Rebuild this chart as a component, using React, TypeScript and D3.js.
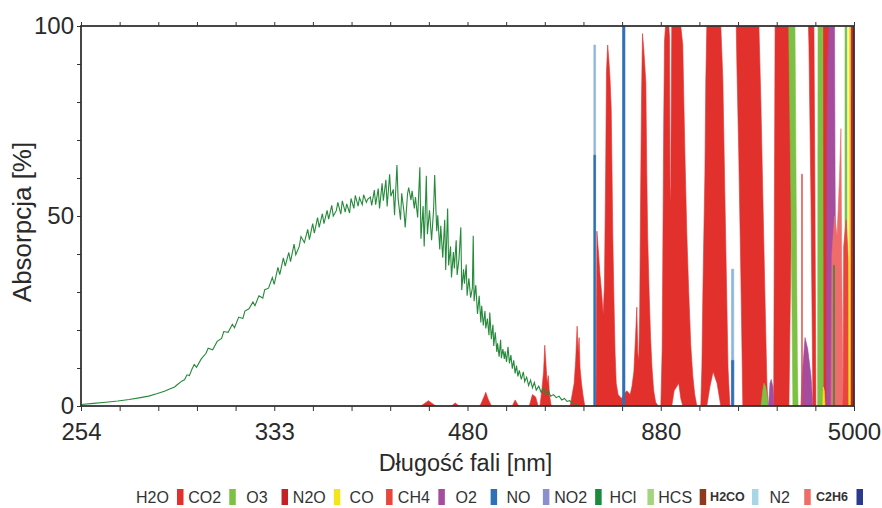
import React, { useEffect, useRef } from 'react';
import * as d3 from 'd3';

const width = 882;
const height = 508;
const plot = { left: 81, right: 854, top: 26, bottom: 406 };
const font = 'Liberation Sans, Arial, Helvetica, sans-serif';

// axis is linear in wavenumber: 20 equal steps between 254 and 5000 nm, labelled every 5th
const xTickLabels = ['254', '333', '480', '880', '5000'];
const yTickLabels = ['0', '50', '100'];

// [wavelength nm, absorption %]
const no2Curve: [number, number][] = [
  [254, 0.4], [258, 0.7], [262, 1.0], [266, 1.3], [270, 1.7], [274, 2.2], [277, 2.6], [280, 3.2],
  [283, 3.9], [285, 4.5], [287, 5.0], [288, 5.6], [290, 6.6], [291, 6.9], [292, 8.2], [293, 8.0],
  [294, 9.6], [295, 10.9], [296, 10.2], [298, 12.4], [300, 13.8], [301, 15.2], [303, 14.8], [305, 17.0],
  [307, 17.8], [308, 19.6], [310, 19.4], [312, 21.5], [313, 20.6], [315, 23.4], [317, 23.0], [318, 25.0],
  [320, 25.6], [322, 27.4], [323, 26.4], [325, 29.0], [327, 28.4], [328, 30.6], [330, 31.0], [332, 33.8],
  [333, 32.0], [335, 36.5], [336, 34.6], [338, 39.0], [339, 36.8], [341, 40.4], [342, 38.0], [344, 42.6],
  [345, 39.8], [347, 42.0], [348, 44.6], [350, 43.0], [352, 46.5], [353, 43.8], [355, 48.0], [356, 45.5],
  [358, 49.6], [359, 47.0], [361, 50.6], [362, 48.0], [364, 51.5], [365, 49.2], [367, 52.8], [368, 50.0],
  [370, 51.4], [371, 53.6], [373, 50.5], [374, 54.0], [376, 51.0], [377, 53.2], [379, 50.8], [380, 54.6],
  [382, 52.0], [383, 55.4], [385, 52.6], [386, 54.8], [388, 53.0], [389, 55.6], [391, 53.6], [392, 54.4],
  [394, 55.0], [395, 52.8], [397, 56.8], [398, 53.0], [400, 57.2], [401, 52.0], [403, 58.6], [404, 54.0],
  [406, 59.5], [407, 52.5], [409, 61.0], [410, 55.2], [412, 57.0], [413, 50.2], [415, 63.4], [416, 54.5],
  [418, 49.0], [419, 56.0], [421, 51.0], [422, 47.0], [424, 55.8], [425, 57.5], [427, 54.2], [428, 56.6],
  [430, 52.0], [431, 55.0], [433, 49.6], [435, 62.8], [436, 44.0], [438, 52.6], [439, 42.0], [441, 60.6],
  [442, 45.2], [444, 51.5], [446, 43.6], [448, 52.0], [449, 60.8], [451, 46.0], [452, 50.2], [454, 41.2],
  [455, 47.4], [457, 39.0], [459, 49.0], [460, 35.8], [462, 52.0], [463, 37.0], [465, 42.0], [466, 33.8],
  [468, 40.5], [469, 36.2], [471, 43.6], [472, 34.5], [474, 38.6], [476, 47.0], [477, 30.5], [479, 36.0],
  [480, 32.2], [482, 37.2], [483, 29.0], [485, 33.6], [487, 28.5], [489, 31.0], [490, 44.8], [491, 27.6],
  [493, 31.8], [495, 24.2], [497, 29.0], [499, 22.0], [500, 26.4], [502, 21.2], [504, 25.0], [505, 20.4],
  [507, 23.0], [509, 18.6], [510, 24.6], [512, 17.6], [514, 21.4], [515, 15.8], [517, 19.4], [519, 14.2],
  [520, 16.5], [522, 13.0], [524, 17.4], [525, 12.6], [527, 15.0], [529, 12.4], [530, 14.4], [532, 11.6],
  [534, 15.6], [536, 11.2], [538, 13.4], [540, 9.8], [542, 12.0], [544, 8.6], [546, 10.6], [548, 7.8],
  [550, 9.4], [553, 7.0], [556, 9.0], [558, 6.4], [561, 7.6], [564, 5.4], [567, 6.8], [570, 4.8],
  [573, 6.2], [576, 4.2], [580, 5.2], [584, 3.6], [588, 4.8], [592, 3.0], [596, 4.0], [600, 2.6],
  [605, 3.0], [610, 2.2], [615, 2.6], [620, 1.6], [625, 2.0], [630, 1.2], [635, 1.4], [640, 0.8],
  [645, 0.6], [650, 0.3],
];

type Band = [number, number, number][]; // [wavelength nm, lower %, upper %]

const h2oBands: Band[] = [
  [[436, 0, 0], [443, 0, 1.4], [450, 0, 0]],
  [[466, 0, 0], [470, 0, 0.8], [474, 0, 0]],
  [[498, 0, 0], [503, 0, 2.5], [505, 0, 3.6], [508, 0, 1.8], [512, 0, 0]],
  [[540, 0, 0], [544, 0, 1.6], [549, 0, 0]],
  [[565, 0, 0], [570, 0, 3.0], [575, 0, 2.4], [579, 0, 0]],
  [[582, 0, 0], [585, 0, 4], [588, 0, 9], [590, 0, 16], [592, 0, 11], [594, 0, 6], [596, 0, 8], [598, 0, 3], [601, 0, 0]],
  [[636, 0, 0], [640, 0, 3], [644, 0, 6], [647, 0, 12], [650, 0, 21], [652, 0, 14], [654, 0, 18], [656, 0, 10], [659, 0, 6], [662, 0, 3], [666, 0, 0]],
  [[691, 0, 0], [693, 0, 46], [697, 0, 40], [700, 0, 35], [704, 0, 30], [708, 0, 24], [711, 0, 32], [714, 0, 62],
    [716, 0, 88], [719, 0, 95], [722, 0, 91], [725, 0, 86], [728, 0, 78], [730, 0, 62], [732, 0, 45], [735, 0, 28],
    [738, 0, 14], [741, 0, 6], [746, 0, 3], [755, 0, 2], [770, 0, 4], [780, 0, 3], [785, 0, 5], [791, 0, 9],
    [796, 0, 18], [800, 0, 26], [803, 0, 14], [806, 0, 12], [809, 0, 24], [812, 0, 56], [815, 0, 82], [818, 0, 98],
    [822, 0, 94], [826, 0, 89], [829, 0, 85], [832, 0, 62], [835, 0, 45], [840, 0, 30], [845, 0, 18], [850, 0, 10],
    [856, 0, 4], [863, 0, 1], [872, 0, 0]],
  [[882, 0, 0], [887, 0, 15], [890, 0, 45], [893, 0, 75], [896, 0, 96], [900, 0, 100], [913, 0, 100], [916, 0, 97],
    [918, 0, 54], [921, 0, 58], [925, 0, 100], [935, 4, 100], [955, 6, 100], [964, 2, 100], [973, 0, 95], [978, 0, 80],
    [983, 0, 66], [992, 0, 45], [1001, 0, 30], [1011, 0, 16], [1021, 0, 8], [1031, 0, 3], [1042, 0, 0]],
  [[1063, 0, 0], [1069, 0, 10], [1074, 0, 28], [1080, 0, 45], [1086, 0, 61], [1091, 0, 85], [1097, 0, 100],
    [1115, 5, 100], [1135, 9, 100], [1160, 6, 100], [1185, 0, 100], [1199, 0, 86], [1213, 0, 56], [1228, 0, 26],
    [1236, 0, 10], [1250, 0, 0]],
  [[1300, 100, 100], [1305, 90, 100], [1321, 66, 100], [1339, 34, 100], [1356, 0, 100], [1516, 0, 100],
    [1538, 0, 80], [1561, 0, 55], [1585, 0, 30], [1610, 0, 6], [1625, 0, 0]],
  [[1700, 0, 0], [1710, 0, 55], [1720, 0, 100], [1943, 0, 100], [1980, 40, 100], [2019, 85, 100], [2040, 100, 100]],
  [[2380, 100, 100], [2393, 95, 100], [2450, 55, 100], [2510, 0, 100], [2540, 0, 100], [2572, 0, 55], [2604, 0, 0]],
  [[2840, 0, 0], [2857, 0, 100], [3300, 0, 100], [3340, 0, 0]],
];

const co2Bands: Band[] = [
  [[1540, 0, 0], [1560, 0, 4], [1575, 0, 6], [1595, 0, 5], [1610, 0, 3], [1625, 0, 0]],
  [[1940, 100, 100], [1943, 96, 100], [1980, 55, 100], [2019, 0, 100], [2060, 0, 100], [2085, 0, 55], [2110, 0, 12], [2125, 0, 0]],
  [[2660, 0, 0], [2675, 0, 100], [2850, 0, 100], [2870, 0, 0]],
  [[4100, 0, 0], [4110, 0, 100], [4270, 0, 100], [4290, 0, 0]],
];

const ch4Bands: Band[] = [
  [[1630, 0, 0], [1650, 0, 6], [1666, 0, 7], [1690, 0, 5], [1705, 0, 0]],
  [[2190, 0, 0], [2220, 0, 8], [2290, 0, 18], [2360, 0, 15], [2450, 0, 8], [2510, 0, 0]],
  [[3000, 0, 0], [3024, 0, 70], [3060, 0, 91], [3115, 0, 100], [3400, 0, 100], [3430, 0, 60], [3480, 0, 25], [3540, 0, 0]],
];

const n2Bands: Band[] = [
  [[3212, 0, 0], [3260, 0, 40], [3400, 0, 50], [3550, 0, 45], [3700, 0, 60], [3800, 0, 73], [3850, 0, 40], [3950, 0, 0]],
];

const coBands: Band[] = [
  [[2206, 0, 61], [2224, 0, 61]],
  [[3950, 0, 0], [4000, 0, 42], [4200, 0, 49], [4400, 0, 38], [4450, 0, 0]],
];

const n2oBands: Band[] = [
  [[2850, 0, 0], [2870, 0, 5], [2910, 0, 4], [2940, 0, 0]],
  [[4440, 0, 0], [4455, 0, 100], [4640, 0, 100], [4660, 0, 0]],
];

const o3Bands: Band[] = [
  [[4660, 0, 0], [4675, 0, 100], [5000, 0, 100]],
];

const o2Bands: Band[] = [
  [[686, 0, 66], [690, 0, 66]],
  [[758, 0, 100], [765, 0, 100]],
  [[1262, 0, 12], [1280, 0, 12]],
];

const o2FaintBands: Band[] = [
  [[686, 0, 95], [690, 0, 95]],
  [[1262, 0, 36], [1280, 0, 36]],
];

const no2IrBands: Band[] = [
  [[3355, 0, 37], [3385, 0, 37]],
];

const legendNames = ['H2O', 'CO2', 'O3', 'N2O', 'CO', 'CH4', 'O2', 'NO', 'NO2', 'HCl', 'HCS', 'H2CO', 'N2', 'C2H6'];
const legendColors = ['#e2312d', '#7cc143', '#c42027', '#f4e41c', '#e8463c', '#a54c9e', '#2f6fb4',
  '#8a8fcd', '#1c8a3d', '#a5d47e', '#8c3b1e', '#a9d6e6', '#ee6d6b', '#2c3a8d'];

const color = (name: string) => legendColors[legendNames.indexOf(name)];

const layers: { bands: Band[]; fill: string }[] = [
  { bands: o2FaintBands, fill: '#8fb5de' },
  { bands: h2oBands, fill: color('H2O') },
  { bands: co2Bands, fill: color('CO2') },
  { bands: ch4Bands, fill: color('CH4') },
  { bands: n2Bands, fill: color('N2') },
  { bands: coBands, fill: color('CO') },
  { bands: n2oBands, fill: color('N2O') },
  { bands: o3Bands, fill: color('O3') },
  { bands: no2IrBands, fill: color('NO2') },
  { bands: o2Bands, fill: color('O2') },
];

export default function App() {
  const ref = useRef<SVGSVGElement>(null);

  useEffect(() => {
    const svg = d3.select(ref.current);
    svg.selectAll('*').remove();

    const x = d3.scaleLinear().domain([1 / 254, 1 / 5000]).range([plot.left, plot.right]);
    const xw = (nm: number) => x(1 / nm);
    const y = d3.scaleLinear().domain([0, 100]).range([plot.bottom, plot.top]);

    svg.append('defs').append('clipPath').attr('id', 'plot-clip')
      .append('rect')
      .attr('x', plot.left).attr('y', plot.top)
      .attr('width', plot.right - plot.left).attr('height', plot.bottom - plot.top);

    const g = svg.append('g').attr('clip-path', 'url(#plot-clip)');

    const area = d3.area<[number, number, number]>()
      .x((d) => xw(d[0]))
      .y0((d) => y(d[1]))
      .y1((d) => y(d[2]));

    layers.forEach((layer) => {
      g.append('g')
        .selectAll('path')
        .data(layer.bands)
        .join('path')
        .attr('d', (d) => area(d))
        .attr('fill', layer.fill)
        .attr('stroke', layer.fill)
        .attr('stroke-width', 0.6);
    });

    const line = d3.line<[number, number]>()
      .x((d) => xw(d[0]))
      .y((d) => y(d[1]));

    g.append('path')
      .attr('d', line(no2Curve))
      .attr('fill', 'none')
      .attr('stroke', '#268a3b')
      .attr('stroke-width', 1.1);

    // axes
    const step = (1 / 254 - 1 / 5000) / 20;
    const xTicks = d3.range(21).map((i) => 1 / 254 - i * step);

    const xAxis = svg.append('g')
      .attr('transform', `translate(0,${plot.bottom})`)
      .call(d3.axisBottom(x).tickValues(xTicks).tickSize(5).tickPadding(12)
        .tickFormat((d, i) => (i % 5 === 0 ? xTickLabels[i / 5] : '')));
    xAxis.select('.domain').remove();

    const topAxis = svg.append('g')
      .attr('transform', `translate(0,${plot.top})`)
      .call(d3.axisTop(x).tickValues(xTicks).tickSize(4).tickFormat(() => ''));
    topAxis.select('.domain').remove();

    const yAxis = svg.append('g')
      .attr('transform', `translate(${plot.left},0)`)
      .call(d3.axisLeft(y).tickValues(d3.range(0, 101, 10)).tickSize(4).tickPadding(3)
        .tickFormat((d, i) => (i % 5 === 0 ? yTickLabels[i / 5] : '')));
    yAxis.select('.domain').remove();

    [xAxis, topAxis, yAxis].forEach((ax) => {
      ax.selectAll('line').attr('stroke', '#333').attr('stroke-width', 1);
      ax.selectAll('text').attr('font-family', font).attr('font-size', 24).attr('fill', '#2a2a2a');
    });

    svg.append('rect')
      .attr('x', plot.left).attr('y', plot.top)
      .attr('width', plot.right - plot.left).attr('height', plot.bottom - plot.top)
      .attr('fill', 'none')
      .attr('stroke', '#333')
      .attr('stroke-width', 1.8);

    svg.append('text')
      .attr('x', (plot.left + plot.right) / 2 - 2)
      .attr('y', 471)
      .attr('text-anchor', 'middle')
      .attr('font-family', font)
      .attr('font-size', 23.5)
      .attr('fill', '#2a2a2a')
      .text('Długość fali [nm]');

    svg.append('text')
      .attr('transform', `translate(31,${(plot.top + plot.bottom) / 2 + 6}) rotate(-90)`)
      .attr('text-anchor', 'middle')
      .attr('font-family', font)
      .attr('font-size', 26)
      .attr('fill', '#2a2a2a')
      .text('Absorpcja [%]');

    // legend: label then colour swatch, in evenly spaced cells
    const lx = d3.scalePoint<string>().domain(legendNames).range([152.5, 832]);
    const legend = svg.append('g').selectAll('g')
      .data(legendNames)
      .join('g')
      .attr('transform', (d) => `translate(${lx(d)},497)`);

    legend.append('text')
      .attr('text-anchor', 'middle')
      .attr('dy', '0.35em')
      .attr('font-family', font)
      .attr('font-size', (d) => (d === 'H2CO' || d === 'C2H6' ? 12.5 : 16))
      .attr('font-weight', (d) => (d === 'H2CO' || d === 'C2H6' ? 'bold' : 'normal'))
      .attr('fill', '#333')
      .text((d) => d);

    legend.append('rect')
      .attr('x', 24.5)
      .attr('y', -8)
      .attr('width', 6.5)
      .attr('height', 16)
      .attr('fill', (d) => color(d));
  }, []);

  return (
    <svg
      ref={ref}
      width={width}
      height={height}
      style={{ position: 'absolute', left: 0, top: 0, background: '#fff' }}
    />
  );
}
